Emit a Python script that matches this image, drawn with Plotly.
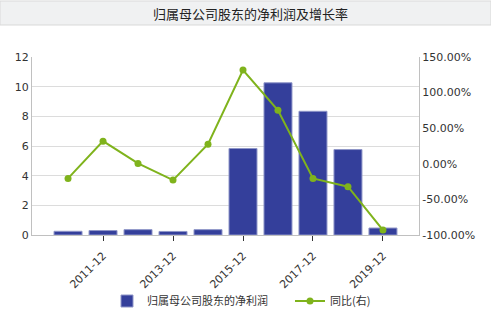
import plotly.graph_objects as go

categories = ["2010-12", "2011-12", "2012-12", "2013-12", "2014-12",
              "2015-12", "2016-12", "2017-12", "2018-12", "2019-12"]
profit = [0.25, 0.30, 0.36, 0.24, 0.36, 5.83, 10.26, 8.34, 5.76, 0.47]
yoy = [-20.5, 31.8, 0.5, -22.9, 27.5, 131.6, 75.1, -20.5, -32.2, -93.0]
left_ticks = [0, 2, 4, 6, 8, 10, 12]
right_ticks = [-100, -50, 0, 50, 100, 150]
x_ticks = ["2011-12", "2013-12", "2015-12", "2017-12", "2019-12"]

title = "归属母公司股东的净利润及增长率"
bar_name = "归属母公司股东的净利润"
line_name = "同比(右)"

CJK = "Noto Sans CJK SC"
TICKF = dict(family="DejaVu Sans", size=11, color="#333333")

fig = go.Figure()
fig.add_trace(go.Bar(
    x=categories, y=profit, name=bar_name,
    marker=dict(color="#343f9b", line=dict(color="#8f96c8", width=1)),
    yaxis="y",
))
fig.add_trace(go.Scatter(
    x=categories, y=yoy, name=line_name, mode="lines+markers",
    line=dict(color="#7fb31c", width=2),
    marker=dict(color="#7fb31c", size=7),
    yaxis="y2",
))

fig.update_layout(
    width=491, height=325,
    margin=dict(l=32, r=72, t=57, b=90, autoexpand=False),
    paper_bgcolor="white", plot_bgcolor="white",
    bargap=0.2,
    showlegend=True,
    legend=dict(orientation="h", xref="container", yref="container",
                x=290/491, xanchor="center", y=1 - 301/325, yanchor="middle",
                font=dict(family=CJK, size=11, color="#333333"),
                bgcolor="rgba(0,0,0,0)",
                itemwidth=30, entrywidth=138, tracegroupgap=0),
    xaxis=dict(type="category", range=[-1.03, 10.03],
               tickvals=x_ticks, ticktext=x_ticks, tickangle=-45,
               ticks="outside", ticklen=5, tickcolor="#333333",
               ticklabelstandoff=4,
               showline=True, linecolor="#c0c0c0", showgrid=False,
               tickfont=TICKF, zeroline=False, automargin=False),
    yaxis=dict(range=[0, 12], tickvals=left_ticks, showline=True, linecolor="#c0c0c0",
               gridcolor="#dcdcdc", tickfont=TICKF, zeroline=False, ticks="",
               automargin=False),
    yaxis2=dict(range=[-100, 150], tickvals=right_ticks,
                ticktext=[f"{v:.2f}%" for v in right_ticks],
                overlaying="y", side="right", showline=True, linecolor="#c0c0c0",
                showgrid=False, tickfont=TICKF, zeroline=False, ticks="",
                automargin=False),
    shapes=[dict(type="rect", xref="paper", yref="paper",
                 x0=-32/387, x1=(491-32)/387, y0=1 + (57-25)/178, y1=1 + (57-1)/178,
                 fillcolor="#f0f1f2", line=dict(color="#d9d9d9", width=1), layer="below")],
    annotations=[dict(text=title, xref="paper", yref="paper",
                      x=(250-32)/387, y=1 + (57-14)/178, showarrow=False,
                      xanchor="center", yanchor="middle",
                      font=dict(family=CJK, size=13, color="#222222"))],
)

fig.write_html("out.html")
